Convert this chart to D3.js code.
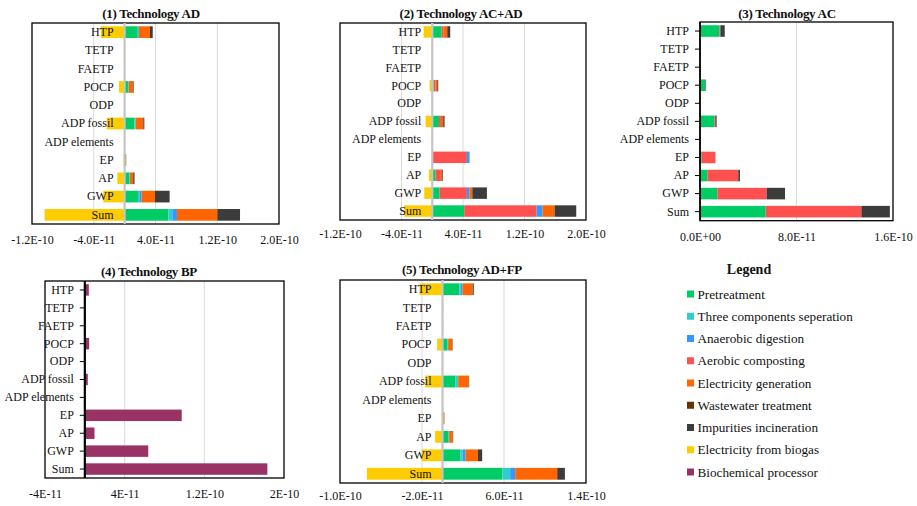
<!DOCTYPE html>
<html><head><meta charset="utf-8">
<script src="https://cdn.jsdelivr.net/npm/d3@7"></script>
<style>
body{margin:0;background:#fff}
svg{display:block}
svg text{fill:#111}
</style>
</head><body>
<svg id="chart" width="917" height="506"></svg>
<script>
// values are expressed in units of 1E-11
const UNIT = 1e-11;
const categories = ["HTP","TETP","FAETP","POCP","ODP","ADP fossil","ADP elements","EP","AP","GWP","Sum"];
const legendNames = ["Pretreatment","Three components seperation","Anaerobic digestion","Aerobic composting","Electricity generation","Wastewater treatment","Impurities incineration","Electricity from biogas","Biochemical processor"];
const legendColors = ["#00CC66","#33CCCC","#3399FF","#FF5050","#FF6600","#663300","#3C3C3C","#FFCC00","#993366"];

// (1) Technology AD
const ad_pretreatment = [1.60,0,0,0.43,0,1.25,0,0,0.60,1.73,5.66];
const ad_threeComp    = [0.26,0,0,0.10,0,0.17,0,0,0.08,0.17,0.52];
const ad_anaerobic    = [0,0,0,0,0,0,0,0,0,0.30,0.60];
const ad_elecGen      = [1.43,0,0,0.56,0,1.00,0,0.12,0.43,1.73,5.23];
const ad_wastewater   = [0,0,0,0,0,0,0,0.08,0,0,0];
const ad_impurities   = [0.35,0,0,0.08,0,0.13,0,0,0.17,1.90,2.94];
const ad_biogas       = [-3.07,0,0,-0.73,0,-2.33,0,-0.13,-0.95,-2.76,-10.37];
const ad_ticks = [-12,-4,4,12,20];
const ad_tickLabels = ["-1.2E-10","-4.0E-11","4.0E-11","1.2E-10","2.0E-10"];

// (2) Technology AC+AD
const acad_pretreatment = [1.21,0,0,0.15,0,0.87,0,0,0.43,0.95,4.16];
const acad_threeComp    = [0,0,0,0.05,0,0,0,0,0,0,0];
const acad_aerobic      = [0.26,0,0,0.22,0,0.26,0,4.51,0.69,3.56,9.41];
const acad_anaerobic    = [0,0,0,0,0,0,0,0.35,0,0.35,0.78];
const acad_elecGen      = [0.48,0,0,0.20,0,0.30,0,0,0.17,0.35,1.56];
const acad_wastewater   = [0,0,0,0.06,0,0,0,0,0,0,0];
const acad_impurities   = [0.39,0,0,0.10,0,0.17,0,0,0.09,1.90,2.82];
const acad_biogas       = [-1.13,0,0,-0.35,0,-0.87,0,0,-0.43,-1.04,-3.64];
const acad_ticks = [-12,-4,4,12,20];
const acad_tickLabels = ["-1.2E-10","-4.0E-11","4.0E-11","1.2E-10","2.0E-10"];

// (3) Technology AC
const ac_pretreatment = [1.61,0.03,0.03,0.42,0,1.19,0.02,0.14,0.61,1.44,5.44];
const ac_aerobic      = [0.08,0,0,0,0,0.08,0,1.14,2.56,4.08,7.94];
const ac_impurities   = [0.36,0,0,0.05,0,0.11,0,0,0.14,1.53,2.36];
const ac_ticks = [0,8,16];
const ac_tickLabels = ["0.0E+00","8.0E-11","1.6E-10"];

// (4) Technology BP
const bp_biochemical = [0.40,0,0,0.43,0,0.30,0,9.73,0.97,6.37,18.33];
const bp_ticks = [-4,4,12,20];
const bp_tickLabels = ["-4E-11","4E-11","1.2E-10","2E-10"];

// (5) Technology AD+FP
const adfp_pretreatment = [1.63,0,0,0.49,0,1.27,0,0.10,0.55,1.76,5.85];
const adfp_threeComp    = [0.16,0,0,0.06,0,0.26,0,0,0.10,0.20,0.75];
const adfp_anaerobic    = [0.16,0,0,0,0,0,0,0,0,0.29,0.49];
const adfp_elecGen      = [1.00,0.06,0.06,0.42,0,1.04,0,0.10,0.36,1.20,4.10];
const adfp_impurities   = [0.10,0,0,0.03,0,0.03,0,0,0.03,0.42,0.75];
const adfp_biogas       = [-2.24,0,0,-0.52,0,-1.69,0,0,-0.72,-2.02,-7.38];
const adfp_ticks = [-10,-2,6,14];
const adfp_tickLabels = ["-1.0E-10","-2.0E-11","6.0E-11","1.4E-10"];

const colorOf = name => legendColors[legendNames.indexOf(name)];
const FONT = '"Liberation Serif","DejaVu Serif",serif';

const panels = [
  {title:"(1) Technology AD", tx:151, ty:17.5, box:[32,23,279,224], domain:[-12,20], ticks:ad_ticks, labels:ad_tickLabels, tickPad:11, zero:"gray",
   series:[["Pretreatment",ad_pretreatment],["Three components seperation",ad_threeComp],["Anaerobic digestion",ad_anaerobic],["Electricity generation",ad_elecGen],["Wastewater treatment",ad_wastewater],["Impurities incineration",ad_impurities],["Electricity from biogas",ad_biogas]]},
  {title:"(2) Technology AC+AD", tx:461, ty:17.5, box:[340,23,586,220], domain:[-12,20], ticks:acad_ticks, labels:acad_tickLabels, tickPad:9, zero:"gray",
   series:[["Pretreatment",acad_pretreatment],["Three components seperation",acad_threeComp],["Aerobic composting",acad_aerobic],["Anaerobic digestion",acad_anaerobic],["Electricity generation",acad_elecGen],["Wastewater treatment",acad_wastewater],["Impurities incineration",acad_impurities],["Electricity from biogas",acad_biogas]]},
  {title:"(3) Technology AC", tx:787, ty:18, box:[700,22,893,220.7], domain:[0,16], ticks:ac_ticks, labels:ac_tickLabels, tickPad:12, zero:"black",
   series:[["Pretreatment",ac_pretreatment],["Aerobic composting",ac_aerobic],["Impurities incineration",ac_impurities]]},
  {title:"(4) Technology BP", tx:149, ty:275.5, box:[45,281,284,478], domain:[-4,20], ticks:bp_ticks, labels:bp_tickLabels, tickPad:11, zero:"black",
   series:[["Biochemical processor",bp_biochemical]]},
  {title:"(5) Technology AD+FP", tx:462, ty:273.5, box:[340,280,586,483], domain:[-10,14], ticks:adfp_ticks, labels:adfp_tickLabels, tickPad:8.5, zero:"gray",
   series:[["Pretreatment",adfp_pretreatment],["Three components seperation",adfp_threeComp],["Anaerobic digestion",adfp_anaerobic],["Electricity generation",adfp_elecGen],["Impurities incineration",adfp_impurities],["Electricity from biogas",adfp_biogas]]}
];

const svg = d3.select("#chart").attr("font-family", FONT);

panels.forEach(p => {
  const [x0,y0,x1,y1] = p.box;
  const g = svg.append("g");
  const x = d3.scaleLinear().domain(p.domain).range([x0,x1]);
  const y = d3.scaleBand().domain(categories).range([y0,y1]).paddingInner(0.36).paddingOuter(0.18);

  g.selectAll("line.grid").data(p.ticks.filter(t => t !== p.domain[0] && t !== p.domain[1] && t !== 0))
    .join("line").attr("class","grid")
    .attr("x1", d=>x(d)).attr("x2", d=>x(d)).attr("y1", y0).attr("y2", y1)
    .attr("stroke","#D9D9D9").attr("stroke-width",1);

  const keys = p.series.map(s=>s[0]);
  const rows = categories.map((c,i) => {
    const r = {cat:c};
    p.series.forEach(s => r[s[0]] = s[1][i]);
    return r;
  });
  const stacked = d3.stack().keys(keys).offset(d3.stackOffsetDiverging)(rows);
  g.selectAll("g.layer").data(stacked).join("g").attr("class","layer")
    .attr("fill", d => colorOf(d.key))
    .selectAll("rect").data(d => d).join("rect")
    .attr("x", d => x(Math.min(d[0],d[1])))
    .attr("width", d => Math.abs(x(d[1]) - x(d[0])))
    .attr("y", d => y(d.data.cat))
    .attr("height", y.bandwidth());

  g.append("rect").attr("x",x0).attr("y",y0).attr("width",x1-x0).attr("height",y1-y0)
    .attr("fill","none").attr("stroke","#000").attr("stroke-width",1.3);

  const xa = g.append("g").attr("transform",`translate(0,${y1})`)
    .call(d3.axisBottom(x).tickValues(p.ticks).tickFormat((d,i)=>p.labels[i]).tickSize(0).tickPadding(p.tickPad))
    .attr("font-family", FONT);
  xa.select(".domain").remove();
  xa.selectAll("text").attr("font-size",12).attr("fill","#111");

  const black = p.zero === "black";
  const ya = g.append("g").attr("transform",`translate(${x(0)},0)`)
    .call(d3.axisLeft(y).tickSize(black?5:0).tickSizeOuter(0).tickPadding(black?6:11))
    .attr("font-family", FONT);
  ya.select(".domain").attr("stroke", black ? "#000" : "#C4C4C4").attr("stroke-width", black ? (p.domain[0]<0?2.2:1.5) : 2.2)
    .attr("d", `M0,${y0}V${y1}`);
  ya.selectAll(".tick line").attr("stroke","#000");
  ya.selectAll("text").attr("font-size",12).attr("fill","#111");

  g.append("text").attr("x",p.tx).attr("y",p.ty).attr("text-anchor","middle")
    .attr("font-size",13).attr("letter-spacing",-0.3).attr("font-weight","bold").text(p.title);
});

const lg = svg.append("g");
lg.append("text").attr("x",749).attr("y",274).attr("text-anchor","middle")
  .attr("font-size",14).attr("font-weight","bold").text("Legend");
const ly = d3.scalePoint().domain(legendNames).range([294, 472]);
const items = lg.selectAll("g.item").data(legendNames).join("g").attr("class","item")
  .attr("transform", d => `translate(687,${ly(d)})`);
items.append("rect").attr("x",0).attr("y",-3.5).attr("width",7).attr("height",7)
  .attr("fill", (d,i) => legendColors[i]);
items.append("text").attr("x",10.5).attr("y",4.5).attr("font-size",13.2).text(d=>d);
</script>
</body></html>
